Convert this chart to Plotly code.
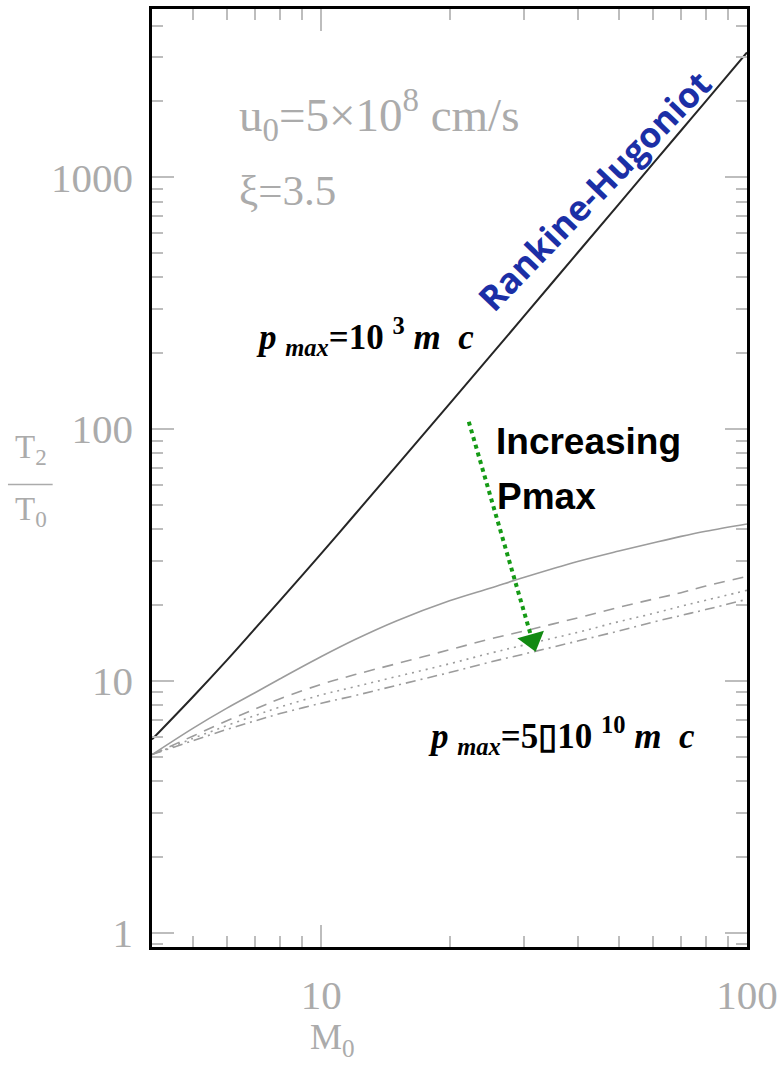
import plotly.graph_objects as go

# Mach number grid shared by every curve
mach = [4, 5, 6, 7, 8, 10, 12, 15, 20, 25, 30, 40, 50, 60, 70, 80, 100]

# Downstream temperature ratio T2/T0
rankine_hugoniot = [5.86, 8.68, 12.1, 16.2, 20.9, 32.1, 45.9, 71.2, 125.9, 196, 282,
                    501, 782, 1126, 1532, 2001, 3126]
pmax_1e3 = [5.1, 6.5, 7.8, 9.0, 10.2, 12.5, 14.6, 17.3, 20.8, 23.4, 25.8,
            29.8, 32.8, 35.3, 37.5, 39.3, 42.0]
pmax_2 = [5.1, 6.05, 6.95, 7.75, 8.5, 9.7, 10.6, 11.7, 13.3, 14.7, 15.8,
          17.8, 19.6, 21.1, 22.4, 23.8, 26.0]
pmax_3 = [5.1, 5.92, 6.65, 7.3, 7.88, 8.8, 9.49, 10.4, 11.7, 12.9, 13.9,
          15.6, 17.2, 18.5, 19.8, 20.9, 22.9]
pmax_5e10 = [5.1, 5.8, 6.42, 6.95, 7.42, 8.16, 8.75, 9.6, 10.8, 11.9, 12.8,
             14.4, 15.8, 17.1, 18.2, 19.2, 21.1]

y_tick_vals = [1, 10, 100, 1000]
y_tick_text = ["1", "10", "100", "1000"]
x_tick_vals = [10, 100]
x_tick_text = ["10", "100"]

# Direction arrow (start, arrowhead centre)
arrow_m = [22.2, 31.3]
arrow_t = [106.9, 14.5]

GREY = "#ababab"
CURVE = "#9c9c9c"
HERSHEY = "Liberation Serif"

fig = go.Figure()

fig.add_trace(go.Scatter(x=mach, y=rankine_hugoniot, mode="lines", line_shape="spline",
                         line=dict(color="#262626", width=2)))
fig.add_trace(go.Scatter(x=mach, y=pmax_1e3, mode="lines", line_shape="spline",
                         line=dict(color=CURVE, width=1.6)))
fig.add_trace(go.Scatter(x=mach, y=pmax_2, mode="lines", line_shape="spline",
                         line=dict(color=CURVE, width=1.6, dash="11px,8px")))
fig.add_trace(go.Scatter(x=mach, y=pmax_3, mode="lines", line_shape="spline",
                         line=dict(color=CURVE, width=1.6, dash="2px,5px")))
fig.add_trace(go.Scatter(x=mach, y=pmax_5e10, mode="lines", line_shape="spline",
                         line=dict(color=CURVE, width=1.6, dash="10px,5px,2px,5px")))

# green dotted arrow
fig.add_trace(go.Scatter(x=arrow_m, y=arrow_t, mode="lines",
                         line=dict(color="#159a15", width=4, dash="4px,4px")))
fig.add_trace(go.Scatter(x=[arrow_m[1]], y=[arrow_t[1]], mode="markers",
                         marker=dict(symbol="triangle-down", size=24, angle=-16,
                                     color="#128a12", line=dict(width=0))))

axis_common = dict(
    type="log",
    showgrid=False,
    zeroline=False,
    showline=True,
    linecolor="black",
    linewidth=2.5,
    mirror="ticks",
    ticks="inside",
    ticklen=22,
    tickwidth=1.5,
    tickcolor="#bdbdbd",
    tickfont=dict(family=HERSHEY, size=41, color=GREY),
    minor=dict(ticks="inside", ticklen=11, tickwidth=1.5, tickcolor="#bdbdbd",
               dtick="D1", showgrid=False),
)

fig.update_xaxes(**axis_common, range=[0.60206, 2.0], tickvals=x_tick_vals,
                 ticktext=x_tick_text, ticklabelstandoff=10)
fig.update_yaxes(**axis_common, range=[-0.0562, 3.6676], tickvals=y_tick_vals,
                 ticktext=y_tick_text, ticklabelstandoff=8)

L, R, T, B = 152, 33, 6, 122
PW, PH = 784 - L - R, 1069 - T - B


def px(x):
    return (x - L) / PW


def py(y):
    return (1069 - B - y) / PH


annotations = [
    dict(x=px(238), y=py(112), text="u<sub>0</sub>=5×10<sup>8</sup> cm/s",
         xanchor="left", yanchor="middle",
         font=dict(family=HERSHEY, size=47, color=GREY)),
    dict(x=px(238), y=py(188), text="ξ=3.5", xanchor="left", yanchor="middle",
         font=dict(family=HERSHEY, size=43, color=GREY)),
    dict(x=px(597), y=py(188), text="<b>Rankine-Hugoniot</b>", textangle=-46,
         xanchor="center", yanchor="middle",
         font=dict(family="Open Sans", size=35, color="#1b2fa6")),
    dict(x=px(255), y=py(335),
         text="<b><i>p</i> <sub><i>max</i></sub>=10 <sup>3</sup> <i>m</i>  <i>c</i></b>",
         xanchor="left", yanchor="middle",
         font=dict(family="Liberation Serif", size=35, color="black")),
    dict(x=px(428), y=py(735),
         text="<b><i>p</i> <sub><i>max</i></sub>=5▯10 <sup>10</sup> <i>m</i>  <i>c</i></b>",
         xanchor="left", yanchor="middle",
         font=dict(family="Liberation Serif", size=35, color="black")),
    dict(x=px(496), y=py(440), text="<b>Increasing</b>", xanchor="left",
         yanchor="middle", font=dict(family="Liberation Sans", size=37, color="black")),
    dict(x=px(497), y=py(495), text="<b>Pmax</b>", xanchor="left",
         yanchor="middle", font=dict(family="Liberation Sans", size=37, color="black")),
    dict(x=px(334), y=py(1040), text="M<sub>0</sub>", xanchor="center",
         yanchor="middle", font=dict(family=HERSHEY, size=36, color=GREY)),
    dict(x=px(30), y=py(448), text="T<sub>2</sub>", xanchor="center",
         yanchor="middle", font=dict(family=HERSHEY, size=33, color=GREY)),
    dict(x=px(30), y=py(510), text="T<sub>0</sub>", xanchor="center",
         yanchor="middle", font=dict(family=HERSHEY, size=33, color=GREY)),
]
for a in annotations:
    a.update(xref="paper", yref="paper", showarrow=False)

fig.update_layout(
    width=784,
    height=1069,
    margin=dict(l=L, r=R, t=T, b=B),
    paper_bgcolor="white",
    plot_bgcolor="white",
    showlegend=False,
    annotations=annotations,
    shapes=[dict(type="line", xref="paper", yref="paper",
                 x0=px(7), x1=px(52), y0=py(483), y1=py(483),
                 line=dict(color=GREY, width=1.5))],
)

fig.write_html("out.html")
